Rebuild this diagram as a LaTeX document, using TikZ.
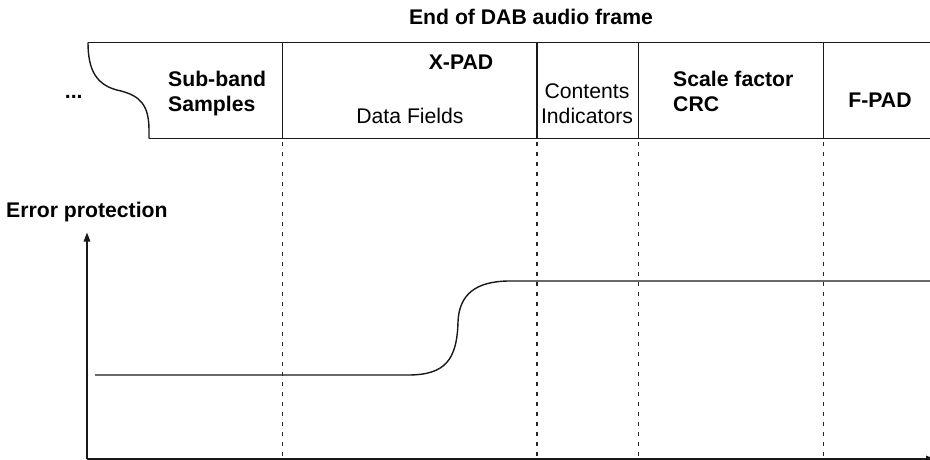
\documentclass[tikz,border=0pt]{standalone}
\usepackage{fontspec}
\setmainfont{Liberation Sans}
\usetikzlibrary{arrows.meta}
\begin{document}
\begin{tikzpicture}[x=1pt,y=-1pt,
  line/.style={line width=1.4pt,black!90},
  guide/.style={line width=1.4pt,black!85,dash pattern=on 4pt off 6pt,dash phase=-3pt},
  lbl/.style={inner sep=0pt,font=\fontsize{21.2}{25}\selectfont},
  blbl/.style={lbl,font=\fontsize{21.2}{25}\selectfont\bfseries},
  axis/.style={line width=1.4pt,black!90,-{Triangle[length=9pt,width=6.5pt]}}]
\useasboundingbox (0,0) rectangle (930,460);
% frame coordinates
\coordinate (tl) at (88,42.3);
\coordinate (tr) at (932,42.3);
\coordinate (bl) at (149,138.5);
\coordinate (br) at (932,138.5);
\coordinate (mid) at (121,91);
\foreach \n/\x in {a/282.5,b/537,c/638.5,d/823.3}{
  \coordinate (\n t) at (\x,42.3);
  \coordinate (\n b) at (\x,138.5);
  \coordinate (\n e) at (\x,458);
}
% frame
\draw[line] (tl) -- (tr);
\draw[line] (bl) -- (br);
\draw[line] (tl) .. controls (88,70) and (96,86) .. (mid)
  .. controls (140,96) and (149,105) .. (149,130) -- (bl);
\foreach \n in {a,b,c,d}{
  \draw[line] (\n t) -- (\n b);
  \draw[guide] (\n b) -- (\n e);
}
% labels
\node[blbl,anchor=base] (title) at (531,25) {End of DAB audio frame};
\node[blbl,anchor=base] (dots) at (73.7,98.5) {...};
\node[blbl,anchor=base west] (sb1) at (168,86.7) {Sub-band};
\node[blbl,anchor=base west] (sb2) at (168,111.7) {Samples};
\node[blbl,anchor=base] (xpad) at (461,70) {X-PAD};
\node[lbl,anchor=base] (df) at (410,124) {Data Fields};
\node[lbl,anchor=base] (ci1) at (587,98.3) {Contents};
\node[lbl,anchor=base] (ci2) at (587,123.3) {Indicators};
\node[blbl,anchor=base west] (sf1) at (673,86.7) {Scale factor};
\node[blbl,anchor=base west] (sf2) at (673,111.7) {CRC};
\node[blbl,anchor=base] (fpad) at (880,107.3) {F-PAD};
\node[blbl,anchor=base west] (ep) at (6,217.3) {Error protection};
% axes
\coordinate (o) at (87,459);
\coordinate (yend) at (87,232.5);
\coordinate (xend) at (935,459);
\draw[axis] (o) -- (yend);
\draw[axis] (o) -- (xend);
% protection level
\coordinate (lowstart) at (95,375);
\coordinate (lowend) at (408,375);
\coordinate (infl) at (458,322);
\coordinate (highstart) at (510,281);
\coordinate (highend) at (932,281);
\draw[line] (lowstart) -- (lowend)
  .. controls (445,375) and (457,360) .. (infl)
  .. controls (459,295) and (475,281) .. (highstart) -- (highend);
\end{tikzpicture}
\end{document}
